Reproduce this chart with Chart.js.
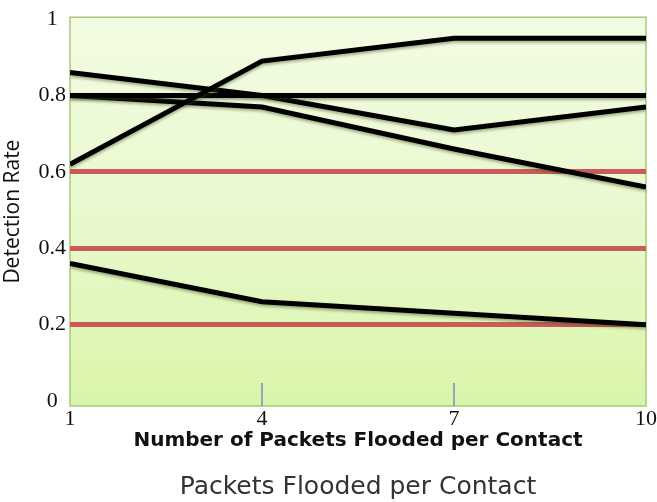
<!DOCTYPE html>
<html>
<head>
<meta charset="utf-8">
<script src="https://cdn.jsdelivr.net/npm/chart.js@4"></script>
<style>
  html, body { margin: 0; padding: 0; background: #fff; }
  #wrap { width: 657px; height: 502px; }
</style>
</head>
<body>
<div id="wrap"><canvas id="myChart" width="657" height="502"></canvas></div>
<script>
// packets flooded per contact
const packets = [1, 4, 7, 10];
// detection rate, one array per line
const lineA = [0.62, 0.89, 0.95, 0.95];
const lineB = [0.80, 0.80, 0.80, 0.80];
const lineC = [0.86, 0.80, 0.71, 0.77];
const lineD = [0.80, 0.77, 0.66, 0.56];
const lineE = [0.36, 0.26, 0.23, 0.20];
const yTicks = [0, 0.2, 0.4, 0.6, 0.8, 1];
const redLevels = [0.2, 0.4, 0.6];

const ctx = document.getElementById('myChart');

// gradient fill + small tick marks inside the plot
const plotDeco = {
  id: 'plotDeco',
  beforeDraw(chart) {
    const { ctx, chartArea: a } = chart;
    const g = ctx.createLinearGradient(0, a.top, 0, a.bottom);
    g.addColorStop(0, '#f2fce3');
    g.addColorStop(0.5, '#e9f9cf');
    g.addColorStop(1, '#d9f5a9');
    ctx.save();
    ctx.fillStyle = g;
    ctx.fillRect(a.left, a.top, a.right - a.left, a.bottom - a.top);
    ctx.strokeStyle = '#a9c97a';
    ctx.lineWidth = 1.5;
    ctx.strokeRect(a.left, a.top, a.right - a.left, a.bottom - a.top);
    ctx.restore();
  },
  afterDraw(chart) {
    const { ctx, chartArea: a, scales } = chart;
    ctx.save();
    ctx.strokeStyle = '#6f95c4';
    ctx.lineWidth = 1.5;
    [4, 7].forEach(v => {
      const x = scales.x.getPixelForValue(v);
      ctx.beginPath();
      ctx.moveTo(x, a.bottom - 23);
      ctx.lineTo(x, a.bottom);
      ctx.stroke();
    });
    ctx.restore();
  },
  beforeDatasetsDraw(chart) {
    chart.ctx.save();
    chart.ctx.shadowColor = 'rgba(60,80,30,0.45)';
    chart.ctx.shadowBlur = 3;
    chart.ctx.shadowOffsetY = 2;
  },
  afterDatasetsDraw(chart) {
    chart.ctx.restore();
  }
};

const mk = (vals) => ({
  data: packets.map((p, i) => ({ x: p, y: vals[i] })),
  borderColor: '#000',
  borderWidth: 5,
  pointRadius: 0,
  tension: 0,
  fill: false
});

const config = {
  type: 'line',
  data: {
    datasets: [mk(lineA), mk(lineB), mk(lineC), mk(lineD), mk(lineE)]
  },
  options: {
    responsive: false,
    animation: false,
    layout: { padding: { left: 0, right: 5, top: 14, bottom: 0 } },
    plugins: {
      legend: { display: false },
      tooltip: { enabled: false },
      title: {
        display: true,
        position: 'bottom',
        fullSize: false,
        text: 'Packets Flooded per Contact',
        color: '#333',
        font: { family: 'DejaVu Sans', size: 25, weight: 400 },
        padding: { top: 8, bottom: 0 }
      }
    },
    scales: {
      x: {
        type: 'linear',
        min: 1,
        max: 10,
        afterBuildTicks: (s) => { s.ticks = packets.map(v => ({ value: v })); },
        afterFit: (s) => { s.height = 58; },
        grid: { display: false, drawTicks: false },
        border: { display: false },
        ticks: {
          color: '#111',
          font: { family: 'Liberation Serif', size: 22 },
          padding: 0,
          maxRotation: 0,
          align: 'center'
        },
        title: {
          display: true,
          text: 'Number of Packets Flooded per Contact',
          color: '#111',
          font: { family: 'DejaVu Sans', size: 20, weight: 'bold' },
          padding: { top: 0, bottom: 11 }
        }
      },
      y: {
        min: -0.013,
        max: 1.005,
        afterBuildTicks: (s) => { s.ticks = yTicks.map(v => ({ value: v })); },
        afterFit: (s) => { s.width = 70; },
        border: { display: false },
        grid: {
          drawTicks: false,
          lineWidth: (c) => redLevels.includes(c.tick && c.tick.value) ? 5 : 0,
          color: (c) => redLevels.includes(c.tick && c.tick.value) ? '#c95c5b' : 'rgba(0,0,0,0)'
        },
        ticks: {
          color: '#111',
          font: { family: 'Liberation Serif', size: 22 },
          padding: 4,
          crossAlign: 'center',
          callback: (v) => String(v)
        },
        title: {
          display: true,
          text: 'Detection Rate',
          color: '#111',
          font: { family: 'Open Sans', size: 21 },
          padding: { top: 0, bottom: 0 }
        }
      }
    }
  },
  plugins: [plotDeco]
};

const myChart = new Chart(ctx, config);
</script>
</body>
</html>
